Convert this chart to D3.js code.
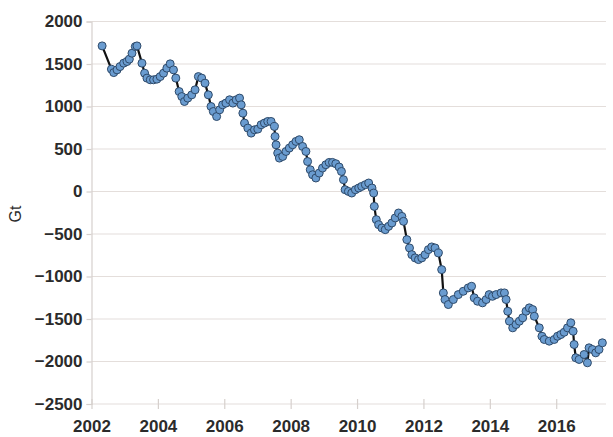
<!DOCTYPE html>
<html>
<head>
<meta charset="utf-8">
<script src="https://cdn.jsdelivr.net/npm/d3@7"></script>
<style>
  html, body { margin: 0; padding: 0; background: #fff; }
  svg { display: block; }
  .tick text { font-family: "Liberation Sans", Arial, sans-serif; font-weight: bold; font-size: 17px; fill: #2b2b2b; }
</style>
</head>
<body>
<svg id="chart" width="613" height="437"></svg>
<script>
const years = [
  2002.32, 2002.60, 2002.67, 2002.77, 2002.86, 2002.97, 2003.07, 2003.14, 2003.22, 2003.32,
  2003.37, 2003.52, 2003.60, 2003.67, 2003.77, 2003.87, 2003.97, 2004.07, 2004.17, 2004.27,
  2004.37, 2004.47, 2004.54, 2004.64, 2004.72, 2004.80, 2004.90, 2005.02, 2005.12, 2005.22,
  2005.32, 2005.42, 2005.52, 2005.60, 2005.67, 2005.77, 2005.86, 2005.95, 2006.05, 2006.16,
  2006.26, 2006.36, 2006.46, 2006.51, 2006.56, 2006.61, 2006.71, 2006.81, 2006.91, 2007.01,
  2007.11, 2007.21, 2007.31, 2007.41, 2007.51, 2007.53, 2007.56, 2007.61, 2007.66, 2007.76,
  2007.86, 2007.96, 2008.06, 2008.16, 2008.26, 2008.36, 2008.46, 2008.51, 2008.59, 2008.66,
  2008.76, 2008.86, 2008.96, 2009.06, 2009.16, 2009.26, 2009.36, 2009.46, 2009.53, 2009.59,
  2009.64, 2009.74, 2009.84, 2009.95, 2010.05, 2010.14, 2010.25, 2010.35, 2010.45, 2010.50,
  2010.52, 2010.58, 2010.65, 2010.75, 2010.85, 2010.95, 2011.05, 2011.15, 2011.25, 2011.35,
  2011.40, 2011.50, 2011.58, 2011.65, 2011.75, 2011.85, 2011.95, 2012.05, 2012.15, 2012.25,
  2012.35, 2012.45, 2012.55, 2012.60, 2012.65, 2012.75, 2012.90, 2013.05, 2013.20, 2013.35,
  2013.45, 2013.53, 2013.63, 2013.78, 2013.89, 2013.98, 2014.08, 2014.19, 2014.34, 2014.44,
  2014.49, 2014.54, 2014.59, 2014.69, 2014.79, 2014.89, 2014.99, 2015.09, 2015.19, 2015.29,
  2015.34, 2015.49, 2015.57, 2015.64, 2015.79, 2015.94, 2016.04, 2016.14, 2016.24, 2016.34,
  2016.44, 2016.51, 2016.54, 2016.59, 2016.69, 2016.84, 2016.94, 2016.99, 2017.09, 2017.19,
  2017.29, 2017.39
];
const massGt = [
  1713, 1439, 1399, 1431, 1470, 1510, 1529, 1557, 1627, 1705,
  1713, 1510, 1392, 1334, 1314, 1314, 1322, 1352, 1392, 1451,
  1502, 1431, 1334, 1176, 1117, 1059, 1099, 1137, 1196, 1352,
  1334, 1275, 1137, 1000, 941, 882, 961, 1020, 1040, 1079,
  1040, 1079, 1099, 1020, 922, 805, 746, 687, 726, 734,
  785, 805, 824, 824, 765, 647, 549, 452, 393, 412,
  471, 511, 550, 589, 609, 530, 471, 353, 256, 197,
  159, 217, 276, 315, 342, 342, 327, 288, 236, 139,
  21, 1, -18, 21, 41, 60, 80, 100, 41, -18,
  -175, -331, -390, -429, -449, -410, -370, -311, -253, -293,
  -351, -566, -664, -743, -781, -801, -781, -743, -684, -652,
  -664, -723, -919, -1193, -1271, -1330, -1271, -1213, -1174, -1134,
  -1115, -1251, -1291, -1310, -1271, -1213, -1233, -1213, -1193, -1193,
  -1271, -1409, -1526, -1604, -1565, -1526, -1486, -1409, -1369, -1389,
  -1468, -1604, -1703, -1741, -1761, -1741, -1703, -1683, -1656, -1604,
  -1545, -1644, -1800, -1956, -1976, -1918, -2015, -1839, -1859, -1898,
  -1859, -1780
];
const yTicks = [2000, 1500, 1000, 500, 0, -500, -1000, -1500, -2000, -2500];
const xTicks = [2002, 2004, 2006, 2008, 2010, 2012, 2014, 2016];
const yLabel = "Gt";

const data = years.map((t, i) => ({ t, v: massGt[i] }));
const svg = d3.select("#chart");

const x = d3.scaleLinear().domain([2002, 2017.5]).range([91.5, 606]);
const y = d3.scaleLinear().domain([-2500, 2000]).range([404, 21.5]);

// grid lines
svg.append("g").selectAll("line").data(yTicks).join("line")
  .attr("x1", x(2002)).attr("x2", x(2017.5))
  .attr("y1", d => y(d)).attr("y2", d => y(d))
  .attr("stroke", "#e4dedb").attr("stroke-width", 1.2);

// y axis
const yAxis = svg.append("g").attr("transform", `translate(${x(2002)},0)`)
  .call(d3.axisLeft(y).tickValues(yTicks).tickSize(5).tickPadding(4).tickFormat(d3.format("d")));
yAxis.select(".domain").attr("stroke", "#d6d0cd").attr("stroke-width", 1.2);
yAxis.selectAll(".tick line").attr("stroke", "#d6d0cd").attr("stroke-width", 1.2);

// x axis
const xAxis = svg.append("g").attr("transform", `translate(0,${y(-2500)})`)
  .call(d3.axisBottom(x).tickValues(xTicks).tickSize(5).tickFormat(d3.format("d")));
xAxis.select(".domain").remove();
xAxis.selectAll(".tick line").attr("y1", -5).attr("y2", 5).attr("stroke", "#d6d0cd").attr("stroke-width", 1.2);
xAxis.selectAll(".tick text").attr("y", 15.5);

// y label
svg.append("text")
  .attr("transform", `translate(21,214) rotate(-90)`)
  .attr("text-anchor", "middle")
  .style("font-family", "Liberation Sans, Arial, sans-serif")
  .style("font-size", "16px")
  .style("fill", "#2b2b2b")
  .text(yLabel);

// line
const line = d3.line().x(d => x(d.t)).y(d => y(d.v));
svg.append("path").datum(data)
  .attr("d", line)
  .attr("fill", "none")
  .attr("stroke", "#111")
  .attr("stroke-width", 2.2)
  .attr("stroke-linejoin", "round");

// points
svg.append("g").selectAll("circle").data(data).join("circle")
  .attr("cx", d => x(d.t)).attr("cy", d => y(d.v))
  .attr("r", 4)
  .attr("fill", "#6a9cd0")
  .attr("stroke", "#2e4a6a")
  .attr("stroke-width", 1);
</script>
</body>
</html>
